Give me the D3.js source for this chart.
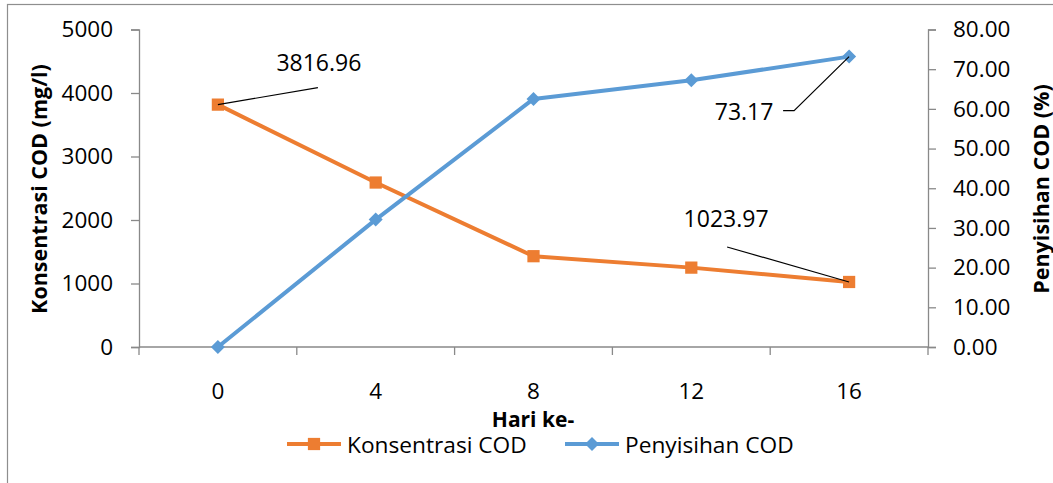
<!DOCTYPE html>
<html>
<head>
<meta charset="utf-8">
<script src="https://cdn.jsdelivr.net/npm/d3@7"></script>
<style>
  html, body { margin: 0; padding: 0; background: #ffffff; }
  svg { display: block; font-family: "Open Sans", "Noto Sans", sans-serif; }
</style>
</head>
<body>
<svg id="chart" width="1053" height="483"></svg>
<script>
// Sampling days
const days = [0, 4, 8, 12, 16];
// COD concentration (mg/l)
const codConcentration = [3816.96, 2590, 1430, 1250, 1023.97];
// COD removal (%)
const codRemoval = [0, 32.1, 62.5, 67.2, 73.17];
// Axis ticks
const leftTicks = [0, 1000, 2000, 3000, 4000, 5000];
const rightTicks = [0, 10, 20, 30, 40, 50, 60, 70, 80];

const ORANGE = "#ED7D31";
const BLUE = "#5B9BD5";
const AXIS = "#898989";

const svg = d3.select("#chart");

// chart frame
svg.append("rect")
  .attr("x", 7.5).attr("y", 4.5)
  .attr("width", 1100).attr("height", 520)
  .attr("fill", "#fff").attr("stroke", "#8e8e8e").attr("stroke-width", 1.2);

const plot = { left: 139, right: 928, top: 29.5, bottom: 347 };

const x = d3.scaleBand().domain(days).range([plot.left, plot.right]).padding(0);
const xc = d => x(d) + x.bandwidth() / 2;
const yL = d3.scaleLinear().domain([0, 5000]).range([plot.bottom, plot.top]);
const yR = d3.scaleLinear().domain([0, 80]).range([plot.bottom, plot.top]);

// left axis
const gL = svg.append("g").attr("transform", `translate(${plot.left},0)`)
  .call(d3.axisLeft(yL).tickValues(leftTicks).tickSize(8).tickPadding(18).tickFormat(d3.format("d")));
// right axis
const gR = svg.append("g").attr("transform", `translate(${plot.right},0)`)
  .call(d3.axisRight(yR).tickValues(rightTicks).tickSize(8).tickPadding(17).tickFormat(d3.format(".2f")));
// bottom axis (labels at category centres, ticks at category boundaries)
const gB = svg.append("g").attr("transform", `translate(0,${plot.bottom})`)
  .call(d3.axisBottom(x).tickSize(0).tickPadding(36));
gB.select(".domain").remove();

[gL, gR].forEach(g => {
  g.select(".domain").attr("stroke", AXIS).attr("stroke-width", 1.3);
  g.selectAll(".tick line").attr("stroke", AXIS).attr("stroke-width", 1.3);
});
[gL, gR, gB].forEach(g => {
  g.selectAll(".tick text").attr("font-size", 22.5).attr("fill", "#000")
    .attr("font-family", "'Open Sans', sans-serif");
});
// boundary ticks at both ends of the category axis
[plot.left, plot.right].forEach(px => {
  svg.append("line")
    .attr("x1", px).attr("x2", px)
    .attr("y1", plot.bottom).attr("y2", plot.bottom + 8)
    .attr("stroke", AXIS).attr("stroke-width", 1.3);
});

// x baseline
svg.append("line")
  .attr("x1", plot.left).attr("x2", plot.right)
  .attr("y1", plot.bottom).attr("y2", plot.bottom)
  .attr("stroke", AXIS).attr("stroke-width", 1.3);
// inner category boundary ticks
svg.append("g").selectAll("line")
  .data(days.slice(1))
  .join("line")
  .attr("x1", d => x(d)).attr("x2", d => x(d))
  .attr("y1", plot.bottom).attr("y2", plot.bottom + 8)
  .attr("stroke", AXIS).attr("stroke-width", 1.3);

// axis titles
svg.append("text")
  .attr("transform", "translate(38,189) rotate(-90)")
  .attr("text-anchor", "middle").attr("dominant-baseline", "central")
  .attr("font-size", 21.5).attr("font-weight", "bold")
  .text("Konsentrasi COD (mg/l)");
svg.append("text")
  .attr("transform", "translate(1040,189) rotate(-90)")
  .attr("text-anchor", "middle").attr("dominant-baseline", "central")
  .attr("font-size", 21.5).attr("font-weight", "bold")
  .text("Penyisihan COD (%)");
svg.append("text")
  .attr("x", 533).attr("y", 427)
  .attr("text-anchor", "middle")
  .attr("font-size", 21).attr("font-weight", "bold")
  .text("Hari ke-");

// series
const codPts = days.map((d, i) => [xc(d), yL(codConcentration[i])]);
const remPts = days.map((d, i) => [xc(d), yR(codRemoval[i])]);
const line = d3.line();

svg.append("path").attr("d", line(codPts))
  .attr("fill", "none").attr("stroke", ORANGE).attr("stroke-width", 4).attr("stroke-linejoin", "round");
svg.append("path").attr("d", line(remPts))
  .attr("fill", "none").attr("stroke", BLUE).attr("stroke-width", 4).attr("stroke-linejoin", "round");

const square = d3.symbol().type(d3.symbolSquare).size(150);
const diamond = (s) => `M0,${-s}L${s},0L0,${s}L${-s},0Z`;

svg.append("g").selectAll("path")
  .data(codPts).join("path")
  .attr("transform", p => `translate(${p[0]},${p[1]})`)
  .attr("d", square()).attr("fill", ORANGE);
svg.append("g").selectAll("path")
  .data(remPts).join("path")
  .attr("transform", p => `translate(${p[0]},${p[1]})`)
  .attr("d", diamond(7)).attr("fill", BLUE);

// value labels with leader lines
const fmt = d3.format(".2f");
function callout(pt, value, leader, tx, ty) {
  svg.append("polyline")
    .attr("points", [pt].concat(leader).map(p => p.join(",")).join(" "))
    .attr("fill", "none").attr("stroke", "#000").attr("stroke-width", 1.2);
  svg.append("text").attr("x", tx).attr("y", ty)
    .attr("text-anchor", "middle").attr("font-size", 23).text(fmt(value));
}
const c0 = codPts[0], c4 = codPts[4], r4 = remPts[4];
callout(c0, codConcentration[0], [[c0[0] + 100, c0[1] - 17]], c0[0] + 101, c0[1] - 34);
callout(c4, codConcentration[4], [[c4[0] - 122, c4[1] - 35]], c4[0] - 123, c4[1] - 55);
callout(r4, codRemoval[4], [[r4[0] - 55, r4[1] + 54], [r4[0] - 66, r4[1] + 54]], r4[0] - 105, r4[1] + 63);

// legend
const legend = svg.append("g");
const items = [
  { name: "Konsentrasi COD", color: ORANGE, x0: 287, shape: "square" },
  { name: "Penyisihan COD", color: BLUE, x0: 565, shape: "diamond" }
];
items.forEach(it => {
  const g = legend.append("g").attr("transform", `translate(${it.x0},444)`);
  g.append("line").attr("x1", 0).attr("x2", 54).attr("y1", 0).attr("y2", 0)
    .attr("stroke", it.color).attr("stroke-width", 4);
  g.append("path").attr("transform", "translate(27,0)")
    .attr("d", it.shape === "square" ? square() : diamond(7)).attr("fill", it.color);
  g.append("text").attr("x", 60).attr("y", 8.5).attr("font-size", 22.7).text(it.name);
});
</script>
</body>
</html>
